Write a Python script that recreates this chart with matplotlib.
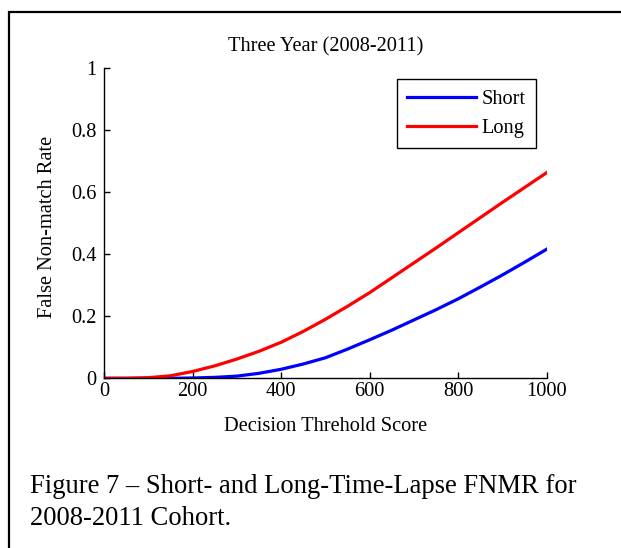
import matplotlib
matplotlib.use("Agg")
import matplotlib.pyplot as plt
from matplotlib.patches import Rectangle

plt.rcParams['font.family'] = ['Liberation Serif', 'DejaVu Serif']

# ---- data ----
threshold = [0, 50, 100, 150, 200, 250, 300, 350, 400, 450, 500,
             550, 600, 650, 700, 750, 800, 850, 900, 950, 1000]
short_fnmr = [0.0, 0.0, 0.0, 0.0, 0.001, 0.003, 0.007, 0.016, 0.029, 0.046, 0.066,
              0.094, 0.124, 0.155, 0.188, 0.221, 0.256, 0.294, 0.333, 0.374, 0.416]
long_fnmr = [0.0, 0.0, 0.002, 0.008, 0.022, 0.040, 0.062, 0.087, 0.116, 0.151, 0.190,
             0.232, 0.276, 0.324, 0.372, 0.420, 0.469, 0.518, 0.567, 0.615, 0.663]
series_names = ["Short", "Long"]
xticks = [0, 200, 400, 600, 800, 1000]
xtick_labels = ["0", "200", "400", "600", "800", "1000"]
yticks = [0, 0.2, 0.4, 0.6, 0.8, 1]
ytick_labels = ["0", "0.2", "0.4", "0.6", "0.8", "1"]
title = "Three Year (2008-2011)"
xlabel = "Decision Threhold Score"
ylabel = "False Non-match Rate"
caption_lines = ["Figure 7 \u2013 Short- and Long-Time-Lapse FNMR for",
                 "2008-2011 Cohort."]

W, H = 621, 548
fig = plt.figure(figsize=(W / 100, H / 100), dpi=100)
fig.patch.set_facecolor("white")

# outer frame (clipped at right and bottom like the reference)
fig.patches.append(Rectangle((9 / W, -0.05), 1.1, 1 - 12 / H + 0.05,
                             transform=fig.transFigure, fill=False,
                             edgecolor="black", linewidth=1.6))

ax_l, ax_r = 104 / W, 546.5 / W
ax_b, ax_t = 1 - 378.3 / H, 1 - 68.3 / H
ax = fig.add_axes([ax_l, ax_b, ax_r - ax_l, ax_t - ax_b])

fs = 14.7
ax.plot(threshold, short_fnmr, color="#0000ff", linewidth=2.3, label=series_names[0])
ax.plot(threshold, long_fnmr, color="#ff0000", linewidth=2.3, label=series_names[1])

ax.set_xlim(0, 1000)
ax.set_ylim(0, 1)
ax.set_xticks(xticks)
ax.set_xticklabels(xtick_labels)
ax.set_yticks(yticks)
ax.set_yticklabels(ytick_labels)
ax.spines["top"].set_visible(False)
ax.spines["right"].set_visible(False)
for s in ("left", "bottom"):
    ax.spines[s].set_linewidth(1.0)
ax.tick_params(direction="in", length=4, width=1.0, labelsize=fs, colors="black")
ax.tick_params(axis="x", pad=3)
ax.tick_params(axis="y", pad=5.5)

ax.set_title(title, fontsize=fs, y=(378.3 - 46.5) / 310, va="center", pad=0)
ax.set_xlabel(xlabel, fontsize=fs, va="center")
ax.xaxis.set_label_coords(0.5, (378.3 - 426.5) / 310)
ax.set_ylabel(ylabel, fontsize=fs, va="center")
ax.yaxis.set_label_coords((47.5 - 104) / 442.5, (378.3 - 226.7) / 310)

leg = ax.legend(loc="upper right", bbox_to_anchor=(536 / W, 1 - 79.3 / H),
                bbox_transform=fig.transFigure, borderaxespad=0,
                fontsize=fs, fancybox=False, framealpha=1, edgecolor="black",
                handlelength=3.35, handletextpad=0.3, labelspacing=0.48,
                borderpad=0.5)
leg.get_frame().set_linewidth(1.0)

for i, line in enumerate(caption_lines):
    fig.text(30 / W, 1 - (493 + 32 * i) / H, line, fontsize=19.2,
             ha="left", va="baseline")

fig.savefig("out.png", dpi=100)
